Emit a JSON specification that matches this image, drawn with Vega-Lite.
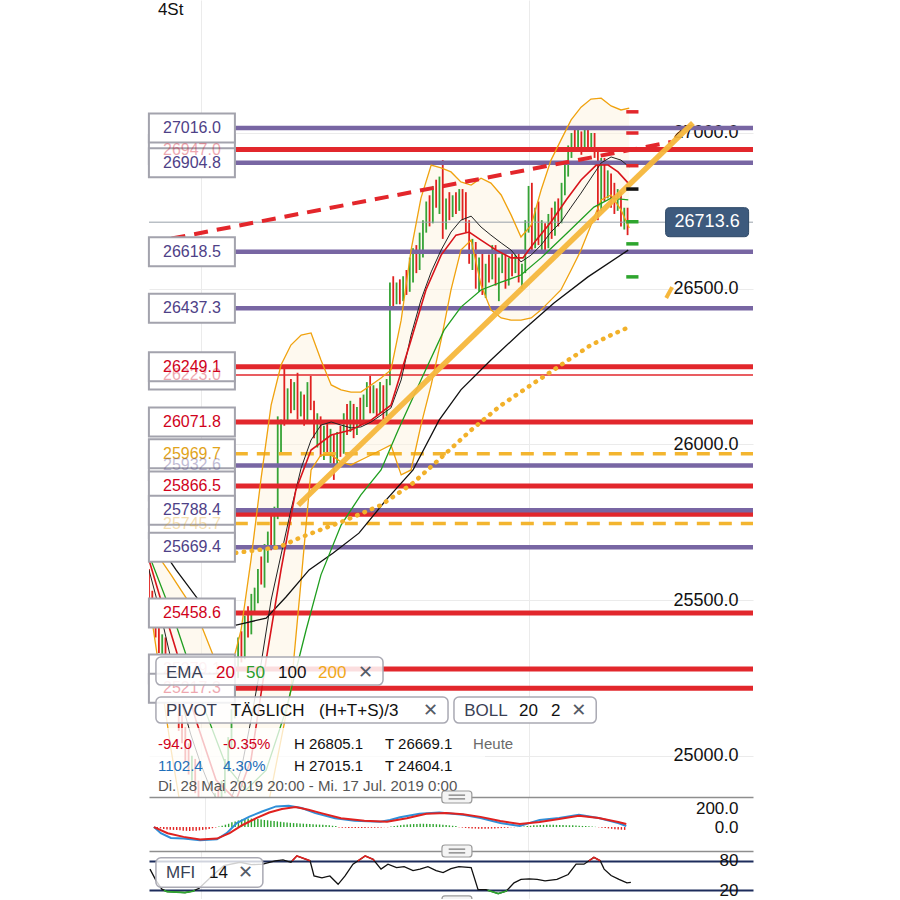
{
"$schema":"https://vega.github.io/schema/vega-lite/v6.json",
"background":"white",
"padding":{"left":144,"right":140,"top":0,"bottom":0},
"bounds":"flush",
"spacing":0,
"config":{"view":{"stroke":null},"font":"Liberation Sans","axis":{"labelFont":"Liberation Sans","minExtent":0,"maxExtent":0}},
"datasets":{
"candles":[
{"i":0,"o":25560,"h":25600,"l":25480,"c":25500,"m":-5},
{"i":1,"o":25500,"h":25530,"l":25420,"c":25440,"m":-10},
{"i":2,"o":25440,"h":25470,"l":25380,"c":25420,"m":-15},
{"i":3,"o":25420,"h":25440,"l":25330,"c":25350,"m":-20},
{"i":4,"o":25350,"h":25390,"l":25300,"c":25370,"m":-25},
{"i":5,"o":25370,"h":25380,"l":25260,"c":25280,"m":-28},
{"i":6,"o":25280,"h":25300,"l":25200,"c":25220,"m":-30},
{"i":7,"o":25220,"h":25260,"l":25180,"c":25240,"m":-32},
{"i":8,"o":25240,"h":25250,"l":25150,"c":25160,"m":-35},
{"i":9,"o":25160,"h":25180,"l":25080,"c":25100,"m":-38},
{"i":10,"o":25100,"h":25130,"l":25040,"c":25060,"m":-40},
{"i":11,"o":25060,"h":25090,"l":24980,"c":25000,"m":-42},
{"i":12,"o":25000,"h":25040,"l":24940,"c":24960,"m":-40},
{"i":13,"o":24960,"h":25000,"l":24920,"c":24980,"m":-38},
{"i":14,"o":24980,"h":24990,"l":24880,"c":24900,"m":-35},
{"i":15,"o":24900,"h":24920,"l":24780,"c":24800,"m":-30},
{"i":16,"o":24800,"h":24830,"l":24604,"c":24680,"m":-25},
{"i":17,"o":24680,"h":24760,"l":24640,"c":24740,"m":-20},
{"i":18,"o":24740,"h":24790,"l":24700,"c":24720,"m":-12},
{"i":19,"o":24720,"h":24820,"l":24700,"c":24800,"m":-5},
{"i":20,"o":24800,"h":24880,"l":24780,"c":24860,"m":5},
{"i":21,"o":24860,"h":24900,"l":24800,"c":24830,"m":15},
{"i":22,"o":24830,"h":24920,"l":24820,"c":24900,"m":25},
{"i":23,"o":24900,"h":24990,"l":24880,"c":24970,"m":35},
{"i":24,"o":24970,"h":25060,"l":24950,"c":25040,"m":50},
{"i":25,"o":25040,"h":25150,"l":25020,"c":25130,"m":60},
{"i":26,"o":25130,"h":25300,"l":25120,"c":25280,"m":70},
{"i":27,"o":25280,"h":25380,"l":25250,"c":25360,"m":80},
{"i":28,"o":25360,"h":25400,"l":25300,"c":25320,"m":85},
{"i":29,"o":25320,"h":25450,"l":25310,"c":25430,"m":90},
{"i":30,"o":25430,"h":25480,"l":25380,"c":25400,"m":90},
{"i":31,"o":25400,"h":25520,"l":25390,"c":25500,"m":88},
{"i":32,"o":25500,"h":25540,"l":25460,"c":25520,"m":85},
{"i":33,"o":25520,"h":25600,"l":25490,"c":25580,"m":80},
{"i":34,"o":25580,"h":25640,"l":25550,"c":25560,"m":75},
{"i":35,"o":25560,"h":25680,"l":25540,"c":25660,"m":72},
{"i":36,"o":25660,"h":25720,"l":25620,"c":25700,"m":68},
{"i":37,"o":25700,"h":25780,"l":25660,"c":25680,"m":64},
{"i":38,"o":25680,"h":25800,"l":25670,"c":25780,"m":60},
{"i":39,"o":25780,"h":26090,"l":25760,"c":26070,"m":56},
{"i":40,"o":26000,"h":26080,"l":25975,"c":26060,"m":52},
{"i":41,"o":26230,"h":26250,"l":26060,"c":26090,"m":48},
{"i":42,"o":26090,"h":26180,"l":26070,"c":26160,"m":45},
{"i":43,"o":26160,"h":26210,"l":26100,"c":26120,"m":42},
{"i":44,"o":26120,"h":26200,"l":26110,"c":26190,"m":40},
{"i":45,"o":26190,"h":26230,"l":26080,"c":26100,"m":38},
{"i":46,"o":26100,"h":26170,"l":26090,"c":26150,"m":36},
{"i":47,"o":26150,"h":26160,"l":26060,"c":26080,"m":34},
{"i":48,"o":26080,"h":26200,"l":26070,"c":26180,"m":32},
{"i":49,"o":26180,"h":26220,"l":26110,"c":26130,"m":30},
{"i":50,"o":26130,"h":26140,"l":26020,"c":26040,"m":28},
{"i":51,"o":26040,"h":26100,"l":25990,"c":26080,"m":26},
{"i":52,"o":26080,"h":26090,"l":25960,"c":25980,"m":24},
{"i":53,"o":25980,"h":26060,"l":25950,"c":26040,"m":22},
{"i":54,"o":26040,"h":26070,"l":25970,"c":25990,"m":18},
{"i":55,"o":25990,"h":26050,"l":25940,"c":26020,"m":14},
{"i":56,"o":26020,"h":26030,"l":25886,"c":25950,"m":10},
{"i":57,"o":25950,"h":26040,"l":25930,"c":26020,"m":-4},
{"i":58,"o":26020,"h":26060,"l":25960,"c":25980,"m":-6},
{"i":59,"o":25980,"h":26100,"l":25970,"c":26080,"m":-8},
{"i":60,"o":26080,"h":26130,"l":26030,"c":26050,"m":-10},
{"i":61,"o":26050,"h":26140,"l":26040,"c":26120,"m":-10},
{"i":62,"o":26120,"h":26130,"l":26020,"c":26040,"m":-10},
{"i":63,"o":26040,"h":26120,"l":26030,"c":26100,"m":-10},
{"i":64,"o":26100,"h":26150,"l":26060,"c":26080,"m":-10},
{"i":65,"o":26080,"h":26160,"l":26070,"c":26140,"m":-10},
{"i":66,"o":26140,"h":26200,"l":26120,"c":26180,"m":-8},
{"i":67,"o":26180,"h":26220,"l":26100,"c":26120,"m":-8},
{"i":68,"o":26120,"h":26190,"l":26100,"c":26170,"m":-6},
{"i":69,"o":26170,"h":26180,"l":26090,"c":26110,"m":-6},
{"i":70,"o":26110,"h":26200,"l":26100,"c":26180,"m":-4},
{"i":71,"o":26180,"h":26190,"l":26080,"c":26100,"m":-2},
{"i":72,"o":26100,"h":26210,"l":26090,"c":26200,"m":-1},
{"i":73,"o":26200,"h":26520,"l":26190,"c":26500,"m":5},
{"i":74,"o":26500,"h":26540,"l":26440,"c":26460,"m":10},
{"i":75,"o":26460,"h":26520,"l":26450,"c":26510,"m":15},
{"i":76,"o":26510,"h":26530,"l":26450,"c":26470,"m":20},
{"i":77,"o":26470,"h":26540,"l":26460,"c":26520,"m":25},
{"i":78,"o":26520,"h":26560,"l":26480,"c":26500,"m":28},
{"i":79,"o":26500,"h":26600,"l":26490,"c":26580,"m":30},
{"i":80,"o":26580,"h":26630,"l":26520,"c":26610,"m":32},
{"i":81,"o":26610,"h":26640,"l":26550,"c":26570,"m":33},
{"i":82,"o":26570,"h":26680,"l":26560,"c":26660,"m":34},
{"i":83,"o":26660,"h":26720,"l":26600,"c":26700,"m":35},
{"i":84,"o":26700,"h":26780,"l":26680,"c":26760,"m":34},
{"i":85,"o":26760,"h":26800,"l":26700,"c":26720,"m":33},
{"i":86,"o":26720,"h":26830,"l":26710,"c":26810,"m":32},
{"i":87,"o":26810,"h":26850,"l":26760,"c":26780,"m":30},
{"i":88,"o":26780,"h":26860,"l":26740,"c":26840,"m":28},
{"i":89,"o":26840,"h":26913,"l":26660,"c":26700,"m":25},
{"i":90,"o":26700,"h":26790,"l":26690,"c":26770,"m":22},
{"i":91,"o":26770,"h":26810,"l":26720,"c":26740,"m":18},
{"i":92,"o":26740,"h":26800,"l":26730,"c":26790,"m":14},
{"i":93,"o":26790,"h":26810,"l":26740,"c":26760,"m":10},
{"i":94,"o":26760,"h":26820,"l":26750,"c":26800,"m":-3},
{"i":95,"o":26800,"h":26820,"l":26720,"c":26740,"m":-6},
{"i":96,"o":26800,"h":26810,"l":26680,"c":26700,"m":-10},
{"i":97,"o":26700,"h":26720,"l":26580,"c":26600,"m":-12},
{"i":98,"o":26600,"h":26660,"l":26560,"c":26640,"m":-15},
{"i":99,"o":26640,"h":26650,"l":26500,"c":26520,"m":-16},
{"i":100,"o":26520,"h":26600,"l":26490,"c":26580,"m":-18},
{"i":101,"o":26580,"h":26620,"l":26480,"c":26500,"m":-18},
{"i":102,"o":26500,"h":26580,"l":26470,"c":26560,"m":-18},
{"i":103,"o":26560,"h":26610,"l":26520,"c":26540,"m":-17},
{"i":104,"o":26540,"h":26640,"l":26530,"c":26620,"m":-16},
{"i":105,"o":26620,"h":26640,"l":26510,"c":26530,"m":-15},
{"i":106,"o":26530,"h":26600,"l":26460,"c":26580,"m":-13},
{"i":107,"o":26580,"h":26620,"l":26550,"c":26600,"m":-11},
{"i":108,"o":26600,"h":26610,"l":26500,"c":26520,"m":-9},
{"i":109,"o":26520,"h":26600,"l":26510,"c":26590,"m":-6},
{"i":110,"o":26590,"h":26620,"l":26540,"c":26560,"m":-3},
{"i":111,"o":26560,"h":26610,"l":26550,"c":26600,"m":-1},
{"i":112,"o":26600,"h":26620,"l":26520,"c":26540,"m":1},
{"i":113,"o":26540,"h":26580,"l":26500,"c":26560,"m":3},
{"i":114,"o":26560,"h":26720,"l":26550,"c":26700,"m":6},
{"i":115,"o":26700,"h":26830,"l":26680,"c":26810,"m":10},
{"i":116,"o":26810,"h":26840,"l":26620,"c":26640,"m":14},
{"i":117,"o":26640,"h":26760,"l":26630,"c":26740,"m":18},
{"i":118,"o":26740,"h":26780,"l":26640,"c":26660,"m":20},
{"i":119,"o":26660,"h":26720,"l":26620,"c":26700,"m":22},
{"i":120,"o":26700,"h":26710,"l":26620,"c":26640,"m":23},
{"i":121,"o":26640,"h":26740,"l":26630,"c":26720,"m":24},
{"i":122,"o":26720,"h":26760,"l":26660,"c":26680,"m":24},
{"i":123,"o":26680,"h":26780,"l":26670,"c":26760,"m":24},
{"i":124,"o":26760,"h":26790,"l":26700,"c":26720,"m":23},
{"i":125,"o":26720,"h":26840,"l":26710,"c":26820,"m":22},
{"i":126,"o":26820,"h":26900,"l":26800,"c":26880,"m":21},
{"i":127,"o":26880,"h":26960,"l":26860,"c":26940,"m":20},
{"i":128,"o":26940,"h":27000,"l":26920,"c":26990,"m":19},
{"i":129,"o":26990,"h":27015,"l":26950,"c":26970,"m":18},
{"i":130,"o":26970,"h":27010,"l":26940,"c":26990,"m":16},
{"i":131,"o":26990,"h":27005,"l":26930,"c":26950,"m":14},
{"i":132,"o":26950,"h":27015,"l":26940,"c":27000,"m":12},
{"i":133,"o":27000,"h":27010,"l":26940,"c":26960,"m":10},
{"i":134,"o":26960,"h":27000,"l":26950,"c":26990,"m":8},
{"i":135,"o":26990,"h":27000,"l":26920,"c":26930,"m":6},
{"i":136,"o":26930,"h":26940,"l":26720,"c":26760,"m":3},
{"i":137,"o":26760,"h":26920,"l":26750,"c":26900,"m":-3},
{"i":138,"o":26900,"h":26920,"l":26780,"c":26800,"m":-6},
{"i":139,"o":26800,"h":26880,"l":26790,"c":26860,"m":-10},
{"i":140,"o":26860,"h":26870,"l":26760,"c":26780,"m":-14},
{"i":141,"o":26820,"h":26840,"l":26740,"c":26760,"m":-18},
{"i":142,"o":26760,"h":26820,"l":26750,"c":26800,"m":-22},
{"i":143,"o":26800,"h":26810,"l":26700,"c":26720,"m":-25},
{"i":144,"o":26720,"h":26760,"l":26690,"c":26750,"m":-28},
{"i":145,"o":26750,"h":26760,"l":26672,"c":26713.6,"m":-30}
],
"bb":[
{"i":0,"u":25693,"m":25597,"lo":25500},
{"i":3.6,"u":25629,"m":25452,"lo":25243},
{"i":6.7,"u":25581,"m":25308,"lo":25019},
{"i":9.7,"u":25532,"m":25179,"lo":24826},
{"i":12.7,"u":25484,"m":25067,"lo":24665},
{"i":15.8,"u":25420,"m":24970,"lo":24537},
{"i":18.8,"u":25340,"m":24890,"lo":24441},
{"i":21.8,"u":25259,"m":24842,"lo":24409},
{"i":24.8,"u":25276,"m":24858,"lo":24441},
{"i":27.9,"u":25404,"m":24954,"lo":24505},
{"i":30.9,"u":25629,"m":25115,"lo":24601},
{"i":33.9,"u":25886,"m":25292,"lo":24729},
{"i":37,"u":26126,"m":25500,"lo":24890},
{"i":40,"u":26255,"m":25645,"lo":25051},
{"i":43,"u":26319,"m":25789,"lo":25211},
{"i":46.1,"u":26351,"m":25924,"lo":25565},
{"i":49.1,"u":26358,"m":26014,"lo":25918},
{"i":52.1,"u":26271,"m":26062,"lo":25966},
{"i":55.2,"u":26191,"m":26072,"lo":25966},
{"i":58.2,"u":26175,"m":26062,"lo":25943},
{"i":61.2,"u":26168,"m":26053,"lo":25934},
{"i":64.2,"u":26168,"m":26056,"lo":25950},
{"i":67.3,"u":26191,"m":26072,"lo":25966},
{"i":70.3,"u":26213,"m":26094,"lo":25982},
{"i":73.3,"u":26239,"m":26117,"lo":25998},
{"i":76.4,"u":26399,"m":26207,"lo":25902},
{"i":79.4,"u":26624,"m":26351,"lo":25918},
{"i":82.4,"u":26791,"m":26464,"lo":26062},
{"i":85.5,"u":26897,"m":26554,"lo":26191},
{"i":88.5,"u":26888,"m":26624,"lo":26335},
{"i":91.5,"u":26875,"m":26682,"lo":26496},
{"i":94.5,"u":26843,"m":26720,"lo":26624},
{"i":97.6,"u":26833,"m":26733,"lo":26656},
{"i":100.6,"u":26855,"m":26698,"lo":26512},
{"i":103.6,"u":26839,"m":26672,"lo":26432},
{"i":106.7,"u":26801,"m":26647,"lo":26406},
{"i":109.7,"u":26737,"m":26624,"lo":26399},
{"i":112.7,"u":26666,"m":26586,"lo":26399},
{"i":115.8,"u":26704,"m":26608,"lo":26406},
{"i":118.8,"u":26817,"m":26640,"lo":26432},
{"i":121.8,"u":26913,"m":26682,"lo":26464},
{"i":124.8,"u":26977,"m":26714,"lo":26496},
{"i":127.9,"u":27042,"m":26762,"lo":26560},
{"i":130.9,"u":27083,"m":26807,"lo":26624},
{"i":133.9,"u":27109,"m":26855,"lo":26704},
{"i":137,"u":27112,"m":26904,"lo":26785},
{"i":140,"u":27087,"m":26923,"lo":26801},
{"i":143,"u":27074,"m":26913,"lo":26753},
{"i":145.5,"u":27080,"m":26891,"lo":26695}
],
"ema":[
{"k":"e20","i":0,"v":25629},{"k":"e20","i":3.6,"v":25500},{"k":"e20","i":8.2,"v":25340},{"k":"e20","i":14.2,"v":25115},{"k":"e20","i":20.3,"v":24922},{"k":"e20","i":26.4,"v":24858},{"k":"e20","i":30.9,"v":24987},{"k":"e20","i":35.5,"v":25308},{"k":"e20","i":40,"v":25597},{"k":"e20","i":44.5,"v":25854},{"k":"e20","i":49.1,"v":25982},{"k":"e20","i":55.2,"v":26030},{"k":"e20","i":61.2,"v":26046},{"k":"e20","i":67.3,"v":26078},{"k":"e20","i":73.3,"v":26126},{"k":"e20","i":79.4,"v":26335},{"k":"e20","i":83.9,"v":26496},{"k":"e20","i":88.5,"v":26608},{"k":"e20","i":93,"v":26672},{"k":"e20","i":97,"v":26682},{"k":"e20","i":100.6,"v":26656},{"k":"e20","i":105.2,"v":26624},{"k":"e20","i":109.7,"v":26599},{"k":"e20","i":113.3,"v":26599},{"k":"e20","i":117.3,"v":26656},{"k":"e20","i":121.8,"v":26714},{"k":"e20","i":126.4,"v":26785},{"k":"e20","i":130.9,"v":26849},{"k":"e20","i":135.5,"v":26897},{"k":"e20","i":139.1,"v":26897},{"k":"e20","i":142.1,"v":26875},{"k":"e20","i":145.2,"v":26839},
{"k":"e50","i":0,"v":25645},{"k":"e50","i":8.2,"v":25420},{"k":"e50","i":15.8,"v":25179},{"k":"e50","i":23.3,"v":24970},{"k":"e50","i":29.4,"v":24890},{"k":"e50","i":35.5,"v":24954},{"k":"e50","i":41.5,"v":25147},{"k":"e50","i":47.6,"v":25404},{"k":"e50","i":52.1,"v":25581},{"k":"e50","i":58.2,"v":25741},{"k":"e50","i":64.2,"v":25838},{"k":"e50","i":70.3,"v":25918},{"k":"e50","i":75.5,"v":26046},{"k":"e50","i":82.4,"v":26207},{"k":"e50","i":89.4,"v":26367},{"k":"e50","i":94.5,"v":26441},{"k":"e50","i":100.6,"v":26496},{"k":"e50","i":106.7,"v":26521},{"k":"e50","i":112.7,"v":26544},{"k":"e50","i":118.8,"v":26599},{"k":"e50","i":127,"v":26682},{"k":"e50","i":134.8,"v":26762},{"k":"e50","i":140,"v":26791},{"k":"e50","i":145.2,"v":26785},
{"k":"e100","i":0,"v":25725},{"k":"e100","i":8.2,"v":25597},{"k":"e100","i":17.3,"v":25468},{"k":"e100","i":26.4,"v":25420},{"k":"e100","i":35.5,"v":25442},{"k":"e100","i":41.5,"v":25510},{"k":"e100","i":48.5,"v":25597},{"k":"e100","i":55.8,"v":25651},{"k":"e100","i":63.6,"v":25715},{"k":"e100","i":71.8,"v":25821},{"k":"e100","i":80,"v":25918},{"k":"e100","i":87.9,"v":26078},{"k":"e100","i":94.5,"v":26175},{"k":"e100","i":103.6,"v":26271},{"k":"e100","i":112.7,"v":26361},{"k":"e100","i":122.7,"v":26454},{"k":"e100","i":133,"v":26538},{"k":"e100","i":145.2,"v":26624},
{"k":"e200","i":0,"v":25693},{"k":"e200","i":15.8,"v":25677},{"k":"e200","i":25.8,"v":25651},{"k":"e200","i":30.9,"v":25658},{"k":"e200","i":39.4,"v":25670},{"k":"e200","i":46.1,"v":25702},{"k":"e200","i":59.7,"v":25757},{"k":"e200","i":70.3,"v":25805},{"k":"e200","i":80,"v":25876},{"k":"e200","i":90,"v":25972},{"k":"e200","i":97.6,"v":26046},{"k":"e200","i":106.7,"v":26126},{"k":"e200","i":115.8,"v":26191},{"k":"e200","i":124.8,"v":26255},{"k":"e200","i":133.9,"v":26319},{"k":"e200","i":140,"v":26351},{"k":"e200","i":145.5,"v":26377}
],
"levels":[
{"v":27016.0,"k":"P"},{"v":26947.0,"k":"R"},{"v":26904.8,"k":"P"},{"v":26618.5,"k":"P"},{"v":26437.3,"k":"P"},{"v":26249.1,"k":"R"},{"v":26223.0,"k":"r"},{"v":26071.8,"k":"R"},{"v":25969.7,"k":"Y"},{"v":25932.6,"k":"P"},{"v":25866.5,"k":"R"},{"v":25788.4,"k":"P"},{"v":25776,"k":"Rx"},{"v":25745.7,"k":"Y"},{"v":25669.4,"k":"P"},{"v":25458.6,"k":"R"},{"v":25279.1,"k":"R"},{"v":25217.3,"k":"R"}
],
"last":[{"v":26713.6}],
"trend":[
{"k":"red","i":0,"v":26647},{"k":"red","i":158.2,"v":26971},
{"k":"or","i":45.2,"v":25805},{"k":"or","i":164.8,"v":27032},
{"k":"seg","i":156.7,"v":26470},{"k":"seg","i":158.5,"v":26505}
],
"piv":[{"v":27068,"k":"R"},{"v":27000,"k":"R"},{"v":26895,"k":"R"},{"v":26820,"k":"P"},{"v":26715,"k":"S"},{"v":26644,"k":"S"},{"v":26538,"k":"S"}],
"macd":[
{"k":"M","i":0,"v":0},{"k":"M","i":2.1,"v":-65},{"k":"M","i":5.2,"v":-115},{"k":"M","i":9.1,"v":-122},{"k":"M","i":14.2,"v":-140},{"k":"M","i":19.4,"v":-130},{"k":"M","i":22.4,"v":-65},{"k":"M","i":25.5,"v":43},{"k":"M","i":29.4,"v":111},{"k":"M","i":33.3,"v":165},{"k":"M","i":37.6,"v":219},{"k":"M","i":41.5,"v":227},{"k":"M","i":45.5,"v":202},{"k":"M","i":49.7,"v":148},{"k":"M","i":55.8,"v":94},{"k":"M","i":61.8,"v":68},{"k":"M","i":69.7,"v":57},{"k":"M","i":72.7,"v":76},{"k":"M","i":75.8,"v":105},{"k":"M","i":81.8,"v":140},{"k":"M","i":87.9,"v":154},{"k":"M","i":95.2,"v":130},{"k":"M","i":100.6,"v":97},{"k":"M","i":106.7,"v":43},{"k":"M","i":112.7,"v":11},{"k":"M","i":118.8,"v":76},{"k":"M","i":124.8,"v":97},{"k":"M","i":130.9,"v":130},{"k":"M","i":137,"v":97},{"k":"M","i":143,"v":43},{"k":"M","i":145.5,"v":11},
{"k":"S","i":0,"v":0},{"k":"S","i":4.2,"v":-65},{"k":"S","i":9.1,"v":-104},{"k":"S","i":14.2,"v":-133},{"k":"S","i":19.4,"v":-122},{"k":"S","i":23.3,"v":-65},{"k":"S","i":27.3,"v":22},{"k":"S","i":31.5,"v":94},{"k":"S","i":35.5,"v":154},{"k":"S","i":39.4,"v":191},{"k":"S","i":43.6,"v":212},{"k":"S","i":47.6,"v":184},{"k":"S","i":51.5,"v":148},{"k":"S","i":57.6,"v":94},{"k":"S","i":64.8,"v":68},{"k":"S","i":71.8,"v":57},{"k":"S","i":77.9,"v":94},{"k":"S","i":83.9,"v":140},{"k":"S","i":90,"v":148},{"k":"S","i":95.2,"v":137},{"k":"S","i":100.6,"v":108},{"k":"S","i":106.7,"v":65},{"k":"S","i":112.7,"v":32},{"k":"S","i":118.8,"v":54},{"k":"S","i":124.8,"v":86},{"k":"S","i":130.9,"v":119},{"k":"S","i":137,"v":97},{"k":"S","i":143,"v":54},{"k":"S","i":145.5,"v":32}
],
"mfi":[
{"i":0.3,"v":63},{"i":2.1,"v":40},{"i":3.9,"v":22},{"i":5.5,"v":17},{"i":8.2,"v":16},{"i":10.9,"v":15},{"i":13.3,"v":18},{"i":15.2,"v":24},{"i":19.1,"v":49},{"i":22.7,"v":70},{"i":27.6,"v":77},{"i":31,"v":72},{"i":34.5,"v":73},{"i":38.2,"v":80},{"i":40.6,"v":82},{"i":43,"v":77},{"i":44.8,"v":90},{"i":47.6,"v":83},{"i":48.8,"v":80},{"i":50,"v":49},{"i":52.4,"v":45},{"i":54.8,"v":49},{"i":57.3,"v":32},{"i":59.4,"v":49},{"i":61.8,"v":73},{"i":65.5,"v":90},{"i":67.9,"v":83},{"i":70.3,"v":63},{"i":72.4,"v":73},{"i":75,"v":66},{"i":77.3,"v":68},{"i":80,"v":60},{"i":82.1,"v":63},{"i":84.5,"v":68},{"i":87,"v":60},{"i":89.1,"v":56},{"i":91.5,"v":64},{"i":93.9,"v":68},{"i":97.6,"v":66},{"i":99.7,"v":21},{"i":102.1,"v":21},{"i":105.8,"v":13},{"i":108.2,"v":18},{"i":110.6,"v":35},{"i":112.7,"v":42},{"i":115.2,"v":43},{"i":117.6,"v":42},{"i":120,"v":39},{"i":123.6,"v":42},{"i":127,"v":52},{"i":129.4,"v":73},{"i":131.8,"v":73},{"i":134.8,"v":87},{"i":136.7,"v":80},{"i":137.9,"v":63},{"i":140,"v":50},{"i":142.4,"v":42},{"i":144.8,"v":35},{"i":146,"v":36}
],
"mfiHot":[
{"b":1,"i":43.4,"v":80},{"b":1,"i":44.8,"v":90},{"b":1,"i":47.6,"v":83},{"b":1,"i":48.8,"v":80},
{"b":2,"i":63.3,"v":80},{"b":2,"i":65.5,"v":90},{"b":2,"i":67.9,"v":83},{"b":2,"i":68.3,"v":80},
{"b":3,"i":133.3,"v":80},{"b":3,"i":134.8,"v":87},{"b":3,"i":136.7,"v":80}
],
"mfiCold":[
{"b":1,"i":4.5,"v":20},{"b":1,"i":5.5,"v":17},{"b":1,"i":8.2,"v":16},{"b":1,"i":10.9,"v":15},{"b":1,"i":13.3,"v":18},{"b":1,"i":13.9,"v":20},
{"b":2,"i":102.6,"v":20},{"b":2,"i":105.8,"v":13},{"b":2,"i":108.2,"v":18},{"b":2,"i":108.5,"v":20}
]
},
"vconcat":[
{
"width":604,"height":797,
"data":{"values":[{}]},
"layer":[
{"data":{"name":"bb"},"mark":{"type":"area","color":"#fdf3e0","opacity":0.5,"clip":true},
 "encoding":{
  "x":{"field":"i","type":"quantitative","scale":{"domain":[0,183],"nice":false,"zero":false},"axis":{"values":[15.8,115.2],"grid":true,"gridColor":"#ebebeb","labels":false,"ticks":false,"domain":false,"title":null}},
  "y":{"field":"u","type":"quantitative","scale":{"domain":[24867.7,27427.1],"nice":false,"zero":false},"axis":{"orient":"right","values":[25000,25500,26000,26500,27000],"format":".1f","grid":true,"gridColor":"#ebebeb","ticks":false,"domain":false,"labelAlign":"right","labelPadding":-15,"labelFontSize":18,"labelColor":"#111","title":null}},
  "y2":{"field":"lo"}}},
{"data":{"name":"candles"},"mark":{"type":"rule","strokeWidth":1.8,"clip":true},
 "encoding":{"x":{"field":"i","type":"quantitative"},"y":{"field":"l","type":"quantitative"},"y2":{"field":"h"},
  "color":{"condition":{"test":"datum.c >= datum.o","value":"#36a336"},"value":"#e0211f"}}},
{"data":{"name":"levels"},"transform":[{"filter":"datum.k == 'R' || datum.k == 'Rx'"}],"mark":{"type":"rule","color":"#e2272c","strokeWidth":5},
 "encoding":{"x":{"datum":26},"x2":{"datum":183},"y":{"field":"v","type":"quantitative"}}},
{"data":{"name":"levels"},"transform":[{"filter":"datum.k == 'r'"}],"mark":{"type":"rule","color":"#e2272c","strokeWidth":1.5},
 "encoding":{"x":{"datum":26},"x2":{"datum":183},"y":{"field":"v","type":"quantitative"}}},
{"data":{"name":"levels"},"transform":[{"filter":"datum.k == 'P'"}],"mark":{"type":"rule","color":"#7866a3","strokeWidth":4.5},
 "encoding":{"x":{"datum":26},"x2":{"datum":183},"y":{"field":"v","type":"quantitative"}}},
{"data":{"name":"levels"},"transform":[{"filter":"datum.k == 'Y'"}],"mark":{"type":"rule","color":"#f3b52f","strokeWidth":3.5,"strokeDash":[13,9]},
 "encoding":{"x":{"datum":26},"x2":{"datum":183},"y":{"field":"v","type":"quantitative"}}},
{"data":{"name":"last"},"mark":{"type":"rule","color":"#98a0aa","strokeWidth":1},
 "encoding":{"x":{"datum":0},"x2":{"datum":183},"y":{"field":"v","type":"quantitative"}}},
{"data":{"name":"bb"},"mark":{"type":"line","color":"#f0a20e","strokeWidth":1.3,"clip":true},
 "encoding":{"x":{"field":"i","type":"quantitative"},"y":{"field":"u","type":"quantitative"}}},
{"data":{"name":"bb"},"mark":{"type":"line","color":"#f0a20e","strokeWidth":1.3,"clip":true},
 "encoding":{"x":{"field":"i","type":"quantitative"},"y":{"field":"lo","type":"quantitative"}}},
{"data":{"name":"bb"},"mark":{"type":"line","color":"#222","strokeWidth":1,"clip":true},
 "encoding":{"x":{"field":"i","type":"quantitative"},"y":{"field":"m","type":"quantitative"}}},
{"data":{"name":"ema"},"transform":[{"filter":"datum.k == 'e100'"}],"mark":{"type":"line","color":"#111","strokeWidth":1.3,"clip":true},
 "encoding":{"x":{"field":"i","type":"quantitative"},"y":{"field":"v","type":"quantitative"}}},
{"data":{"name":"ema"},"transform":[{"filter":"datum.k == 'e50'"}],"mark":{"type":"line","color":"#1f9e1f","strokeWidth":1.3,"clip":true},
 "encoding":{"x":{"field":"i","type":"quantitative"},"y":{"field":"v","type":"quantitative"}}},
{"data":{"name":"ema"},"transform":[{"filter":"datum.k == 'e20'"}],"mark":{"type":"line","color":"#d9141b","strokeWidth":1.6,"clip":true},
 "encoding":{"x":{"field":"i","type":"quantitative"},"y":{"field":"v","type":"quantitative"}}},
{"data":{"name":"ema"},"transform":[{"filter":"datum.k == 'e200'"}],"mark":{"type":"line","color":"#f2b12a","strokeWidth":4.5,"strokeDash":[0.5,7.5],"strokeCap":"round","clip":true},
 "encoding":{"x":{"field":"i","type":"quantitative"},"y":{"field":"v","type":"quantitative"}}},
{"data":{"name":"trend"},"transform":[{"filter":"datum.k == 'red'"}],"mark":{"type":"line","color":"#e3262b","strokeWidth":4,"strokeDash":[14,9],"clip":true},
 "encoding":{"x":{"field":"i","type":"quantitative"},"y":{"field":"v","type":"quantitative"}}},
{"data":{"name":"trend"},"transform":[{"filter":"datum.k == 'or'"}],"mark":{"type":"line","color":"#f6b73c","strokeWidth":5.5,"opacity":0.95},
 "encoding":{"x":{"field":"i","type":"quantitative"},"y":{"field":"v","type":"quantitative"}}},
{"data":{"name":"trend"},"transform":[{"filter":"datum.k == 'seg'"}],"mark":{"type":"line","color":"#f6b73c","strokeWidth":4},
 "encoding":{"x":{"field":"i","type":"quantitative"},"y":{"field":"v","type":"quantitative"}}},
{"data":{"name":"piv"},"mark":{"type":"rule","strokeWidth":3.5},
 "encoding":{"x":{"datum":144.6},"x2":{"datum":148.3},"y":{"field":"v","type":"quantitative"},
  "color":{"condition":[{"test":"datum.k == 'R'","value":"#e2272c"},{"test":"datum.k == 'P'","value":"#111"}],"value":"#2ea52e"}}},
{"mark":{"type":"rect","fill":"white","opacity":0.75},
 "encoding":{"x":{"datum":0},"x2":{"datum":101.8},"y":{"datum":25089},"y2":{"datum":24867.7}}},
{"data":{"name":"levels"},"transform":[{"filter":{"field":"v","oneOf":[26947,26223,25932.6,25745.7,25279.1,25217.3]}}],
 "mark":{"type":"point","shape":"M-1,-0.337H1V0.337H-1Z","size":7396,"filled":true,"fill":"white","stroke":"#a3a3ad","strokeWidth":2,"opacity":1},
 "encoding":{"x":{"datum":13},"y":{"field":"v","type":"quantitative"}}},
{"data":{"name":"levels"},"transform":[{"filter":{"and":[{"not":{"field":"v","oneOf":[26947,26223,25932.6,25745.7,25279.1,25217.3]}},{"not":{"field":"k","equal":"Rx"}}]}}],
 "mark":{"type":"point","shape":"M-1,-0.337H1V0.337H-1Z","size":7396,"filled":true,"fill":"white","stroke":"#a3a3ad","strokeWidth":2,"opacity":1},
 "encoding":{"x":{"datum":13},"y":{"field":"v","type":"quantitative"}}},
{"data":{"name":"levels"},"transform":[{"filter":{"and":[{"not":{"field":"v","oneOf":[26947,26223,25932.6,25745.7,25279.1,25217.3]}},{"not":{"field":"k","equal":"Rx"}}]}}],
 "mark":{"type":"text","fontSize":16,"align":"center","baseline":"middle"},
 "encoding":{"x":{"datum":13},"y":{"field":"v","type":"quantitative"},"text":{"field":"v","type":"quantitative","format":".1f"},
  "color":{"condition":[{"test":"datum.k == 'P'","value":"#4e4187"},{"test":"datum.k == 'Y'","value":"#e2a41a"}],"value":"#d0021b"}}},
{"data":{"name":"levels"},"transform":[{"filter":{"field":"v","oneOf":[26947,26223,25932.6,25745.7,25279.1,25217.3]}}],
 "mark":{"type":"text","fontSize":16,"align":"center","baseline":"middle","opacity":0.35},
 "encoding":{"x":{"datum":13},"y":{"field":"v","type":"quantitative"},"text":{"field":"v","type":"quantitative","format":".1f"},
  "color":{"condition":[{"test":"datum.k == 'P'","value":"#4e4187"},{"test":"datum.k == 'Y'","value":"#e2a41a"}],"value":"#d0021b"}}},
{"data":{"name":"last"},"mark":{"type":"point","shape":"M-0.9,-0.35H0.9Q1,-0.35 1,-0.25V0.25Q1,0.35 0.9,0.35H-0.9Q-1,0.35 -1,0.25V-0.25Q-1,-0.35 -0.9,-0.35Z","size":6889,"filled":true,"fill":"#3d5a7d","stroke":"#2e4866","strokeWidth":1,"opacity":1},
 "encoding":{"x":{"datum":169.1},"y":{"field":"v","type":"quantitative"}}},
{"data":{"name":"last"},"mark":{"type":"text","fontSize":18,"align":"center","baseline":"middle","color":"white"},
 "encoding":{"x":{"datum":169.1},"y":{"field":"v","type":"quantitative"},"text":{"field":"v","type":"quantitative","format":".1f"}}},
{"mark":{"type":"rect","fill":"white","fillOpacity":0.85,"stroke":"#a9a9b3","strokeWidth":1.5,"cornerRadius":5},
 "encoding":{"x":{"datum":2.1},"x2":{"datum":70.9},"y":{"datum":25317},"y2":{"datum":25227}}},
{"mark":{"type":"rect","fill":"white","fillOpacity":0.85,"stroke":"#a9a9b3","strokeWidth":1.5,"cornerRadius":5},
 "encoding":{"x":{"datum":2.1},"x2":{"datum":90.6},"y":{"datum":25189},"y2":{"datum":25105}}},
{"mark":{"type":"rect","fill":"white","fillOpacity":0.85,"stroke":"#a9a9b3","strokeWidth":1.5,"cornerRadius":5},
 "encoding":{"x":{"datum":92.4},"x2":{"datum":135.5},"y":{"datum":25189},"y2":{"datum":25105}}},
{"mark":{"type":"text","align":"left","baseline":"middle","fontSize":17,"color":"#111"},"encoding":{"x":{"datum":2.7},"y":{"datum":27395},"text":{"value":"4St"}}},
{"mark":{"type":"text","align":"left","baseline":"middle","fontSize":17,"color":"#3a3f55"},"encoding":{"x":{"datum":5.15},"y":{"datum":25267.5},"text":{"value":"EMA"}}},
{"mark":{"type":"text","align":"left","baseline":"middle","fontSize":17,"color":"#d0021b"},"encoding":{"x":{"datum":20.3},"y":{"datum":25267.5},"text":{"value":"20"}}},
{"mark":{"type":"text","align":"left","baseline":"middle","fontSize":17,"color":"#2a9d2a"},"encoding":{"x":{"datum":29.4},"y":{"datum":25267.5},"text":{"value":"50"}}},
{"mark":{"type":"text","align":"left","baseline":"middle","fontSize":17,"color":"#111"},"encoding":{"x":{"datum":39.1},"y":{"datum":25267.5},"text":{"value":"100"}}},
{"mark":{"type":"text","align":"left","baseline":"middle","fontSize":17,"color":"#f0a818"},"encoding":{"x":{"datum":51.2},"y":{"datum":25267.5},"text":{"value":"200"}}},
{"mark":{"type":"text","align":"left","baseline":"middle","fontSize":18,"font":"DejaVu Sans","fontWeight":"bold","color":"#555b66"},"encoding":{"x":{"datum":63.3},"y":{"datum":25267.5},"text":{"value":"✕"}}},
{"mark":{"type":"text","align":"left","baseline":"middle","fontSize":17,"color":"#3a3f55"},"encoding":{"x":{"datum":5.15},"y":{"datum":25143},"text":{"value":"PIVOT"}}},
{"mark":{"type":"text","align":"left","baseline":"middle","fontSize":17,"color":"#111"},"encoding":{"x":{"datum":24.8},"y":{"datum":25143},"text":{"value":"TÄGLICH"}}},
{"mark":{"type":"text","align":"left","baseline":"middle","fontSize":17,"color":"#111"},"encoding":{"x":{"datum":51.5},"y":{"datum":25143},"text":{"value":"(H+T+S)/3"}}},
{"mark":{"type":"text","align":"left","baseline":"middle","fontSize":18,"font":"DejaVu Sans","fontWeight":"bold","color":"#555b66"},"encoding":{"x":{"datum":83},"y":{"datum":25143},"text":{"value":"✕"}}},
{"mark":{"type":"text","align":"left","baseline":"middle","fontSize":17,"color":"#3a3f55"},"encoding":{"x":{"datum":95.5},"y":{"datum":25143},"text":{"value":"BOLL"}}},
{"mark":{"type":"text","align":"left","baseline":"middle","fontSize":17,"color":"#111"},"encoding":{"x":{"datum":112.1},"y":{"datum":25143},"text":{"value":"20"}}},
{"mark":{"type":"text","align":"left","baseline":"middle","fontSize":17,"color":"#111"},"encoding":{"x":{"datum":121.8},"y":{"datum":25143},"text":{"value":"2"}}},
{"mark":{"type":"text","align":"left","baseline":"middle","fontSize":18,"font":"DejaVu Sans","fontWeight":"bold","color":"#555b66"},"encoding":{"x":{"datum":127.9},"y":{"datum":25143},"text":{"value":"✕"}}},
{"mark":{"type":"text","align":"left","baseline":"middle","fontSize":15,"color":"#d0021b"},"encoding":{"x":{"datum":2.7},"y":{"datum":25038},"text":{"value":"-94.0"}}},
{"mark":{"type":"text","align":"left","baseline":"middle","fontSize":15,"color":"#d0021b"},"encoding":{"x":{"datum":22.4},"y":{"datum":25038},"text":{"value":"-0.35%"}}},
{"mark":{"type":"text","align":"left","baseline":"middle","fontSize":15,"color":"#111"},"encoding":{"x":{"datum":43.9},"y":{"datum":25038},"text":{"value":"H 26805.1"}}},
{"mark":{"type":"text","align":"left","baseline":"middle","fontSize":15,"color":"#111"},"encoding":{"x":{"datum":71.5},"y":{"datum":25038},"text":{"value":"T 26669.1"}}},
{"mark":{"type":"text","align":"left","baseline":"middle","fontSize":15,"color":"#6b6b6b"},"encoding":{"x":{"datum":98.2},"y":{"datum":25038},"text":{"value":"Heute"}}},
{"mark":{"type":"text","align":"left","baseline":"middle","fontSize":15,"color":"#1f6fba"},"encoding":{"x":{"datum":2.7},"y":{"datum":24967},"text":{"value":"1102.4"}}},
{"mark":{"type":"text","align":"left","baseline":"middle","fontSize":15,"color":"#1f6fba"},"encoding":{"x":{"datum":22.4},"y":{"datum":24967},"text":{"value":"4.30%"}}},
{"mark":{"type":"text","align":"left","baseline":"middle","fontSize":15,"color":"#111"},"encoding":{"x":{"datum":43.9},"y":{"datum":24967},"text":{"value":"H 27015.1"}}},
{"mark":{"type":"text","align":"left","baseline":"middle","fontSize":15,"color":"#111"},"encoding":{"x":{"datum":71.5},"y":{"datum":24967},"text":{"value":"T 24604.1"}}},
{"mark":{"type":"text","align":"left","baseline":"middle","fontSize":15,"color":"#555"},"encoding":{"x":{"datum":2.7},"y":{"datum":24903},"text":{"value":"Di. 28 Mai 2019 20:00 - Mi. 17 Jul. 2019 0:00"}}}
]
},
{
"width":604,"height":54,
"data":{"values":[{}]},
"layer":[
{"data":{"name":"candles"},"mark":{"type":"bar","width":1.4,"orient":"vertical","clip":true},
 "encoding":{
  "x":{"field":"i","type":"quantitative","scale":{"domain":[0,183],"nice":false,"zero":false},"axis":{"orient":"top","values":[15.8,115.2],"grid":true,"gridColor":"#ebebeb","labels":false,"ticks":false,"domain":true,"domainColor":"#8e8e8e","domainWidth":1.5,"title":null}},
  "y":{"field":"m","type":"quantitative","scale":{"domain":[-254,319],"nice":false,"zero":false},"axis":{"orient":"right","values":[0,200],"format":".1f","grid":false,"ticks":false,"domain":false,"labelAlign":"right","labelPadding":-15,"labelFontSize":17,"labelColor":"#111","title":null}},
  "y2":{"datum":0},
  "color":{"condition":{"test":"datum.m > 0","value":"#2ea52e"},"value":"#e0211f"}}},
{"data":{"name":"macd"},"transform":[{"filter":"datum.k == 'M'"}],"mark":{"type":"line","color":"#2f8fd8","strokeWidth":2,"clip":true},
 "encoding":{"x":{"field":"i","type":"quantitative"},"y":{"field":"v","type":"quantitative"}}},
{"data":{"name":"macd"},"transform":[{"filter":"datum.k == 'S'"}],"mark":{"type":"line","color":"#e0211f","strokeWidth":2,"clip":true},
 "encoding":{"x":{"field":"i","type":"quantitative"},"y":{"field":"v","type":"quantitative"}}},
{"mark":{"type":"point","shape":"M-0.8,-0.4H0.8Q1,-0.4 1,-0.2V0.2Q1,0.4 0.8,0.4H-0.8Q-1,0.4 -1,0.2V-0.2Q-1,-0.4 -0.8,-0.4Z","size":900,"filled":true,"fill":"#f4f4f4","stroke":"#9a9a9a","strokeWidth":1.2,"opacity":1},
 "encoding":{"x":{"datum":93.3},"y":{"datum":319}}},
{"mark":{"type":"point","shape":"M-0.55,-0.13H0.55M-0.55,0.13H0.55","size":900,"filled":false,"color":"#7a7a7a","strokeWidth":1.3,"opacity":1},
 "encoding":{"x":{"datum":93.3},"y":{"datum":319}}}
]
},
{
"width":604,"height":48,
"data":{"values":[{}]},
"layer":[
{"data":{"name":"mfi"},"mark":{"type":"line","color":"#111","strokeWidth":1.3,"clip":true},
 "encoding":{
  "x":{"field":"i","type":"quantitative","scale":{"domain":[0,183],"nice":false,"zero":false},"axis":{"orient":"top","values":[15.8,115.2],"grid":true,"gridColor":"#ebebeb","labels":false,"ticks":false,"domain":true,"domainColor":"#8e8e8e","domainWidth":1.5,"title":null}},
  "y":{"field":"v","type":"quantitative","scale":{"domain":[2,100],"nice":false,"zero":false},"axis":{"orient":"right","values":[20,80],"format":"d","grid":true,"gridColor":"#1d2c5c","gridWidth":2,"ticks":false,"domain":false,"labelAlign":"right","labelPadding":-15,"labelFontSize":17,"labelColor":"#111","title":null}}}},
{"data":{"name":"mfiHot"},"mark":{"type":"line","color":"#e0211f","strokeWidth":1.6},
 "encoding":{"x":{"field":"i","type":"quantitative"},"y":{"field":"v","type":"quantitative"},"detail":{"field":"b","type":"nominal"}}},
{"data":{"name":"mfiCold"},"mark":{"type":"line","color":"#2ea52e","strokeWidth":1.6},
 "encoding":{"x":{"field":"i","type":"quantitative"},"y":{"field":"v","type":"quantitative"},"detail":{"field":"b","type":"nominal"}}},
{"mark":{"type":"rect","fill":"white","fillOpacity":0.8,"stroke":"#a9a9b3","strokeWidth":1.5,"cornerRadius":5},
 "encoding":{"x":{"datum":2.1},"x2":{"datum":34.5},"y":{"datum":86},"y2":{"datum":26}}},
{"mark":{"type":"text","align":"left","baseline":"middle","fontSize":17,"color":"#3a3f55"},"encoding":{"x":{"datum":5.15},"y":{"datum":56},"text":{"value":"MFI"}}},
{"mark":{"type":"text","align":"left","baseline":"middle","fontSize":17,"color":"#111"},"encoding":{"x":{"datum":18.2},"y":{"datum":56},"text":{"value":"14"}}},
{"mark":{"type":"text","align":"left","baseline":"middle","fontSize":18,"font":"DejaVu Sans","fontWeight":"bold","color":"#555b66"},"encoding":{"x":{"datum":27},"y":{"datum":56},"text":{"value":"✕"}}},
{"mark":{"type":"point","shape":"M-0.8,-0.4H0.8Q1,-0.4 1,-0.2V0.2Q1,0.4 0.8,0.4H-0.8Q-1,0.4 -1,0.2V-0.2Q-1,-0.4 -0.8,-0.4Z","size":900,"filled":true,"fill":"#f4f4f4","stroke":"#9a9a9a","strokeWidth":1.2,"opacity":1},
 "encoding":{"x":{"datum":93.3},"y":{"datum":100}}},
{"mark":{"type":"point","shape":"M-0.55,-0.13H0.55M-0.55,0.13H0.55","size":900,"filled":false,"color":"#7a7a7a","strokeWidth":1.3,"opacity":1},
 "encoding":{"x":{"datum":93.3},"y":{"datum":100}}},
{"mark":{"type":"point","shape":"M-0.8,-0.4H0.8Q1,-0.4 1,-0.2V0.2Q1,0.4 0.8,0.4H-0.8Q-1,0.4 -1,0.2V-0.2Q-1,-0.4 -0.8,-0.4Z","size":900,"filled":true,"fill":"#f4f4f4","stroke":"#9a9a9a","strokeWidth":1.2,"opacity":1,"clip":true},
 "encoding":{"x":{"datum":93.3},"y":{"datum":-4}}}
]
}
]
}
